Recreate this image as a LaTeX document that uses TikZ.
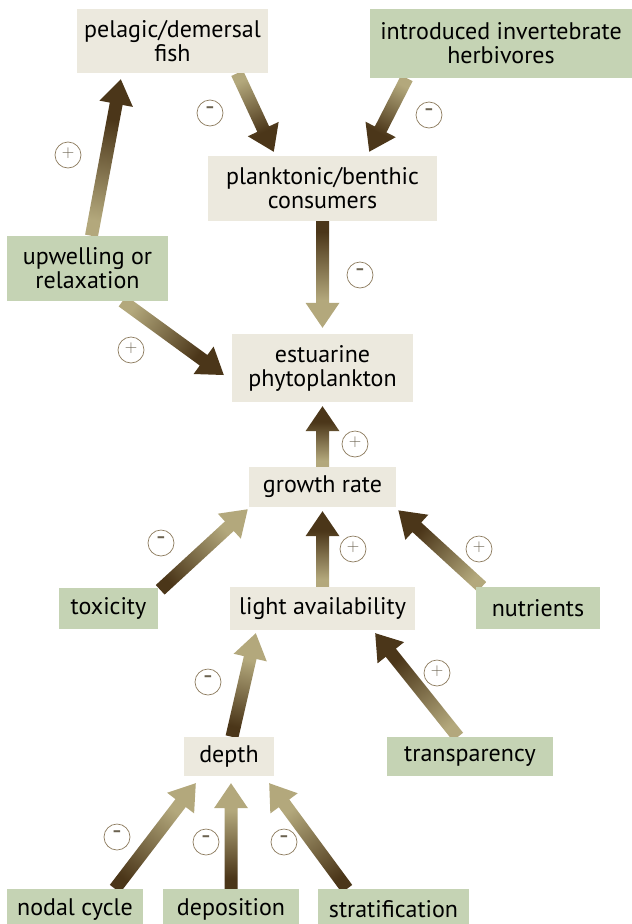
\documentclass[tikz,border=0pt]{standalone}
\usepackage{fontspec}
\setmainfont{PT Sans}
\usetikzlibrary{calc,backgrounds}

\definecolor{boxcream}{HTML}{ECE9DE}
\definecolor{boxgreen}{HTML}{C5D3B4}
\definecolor{arrowdark}{HTML}{4B3619}
\definecolor{arrowlight}{HTML}{B3A87C}
\definecolor{signbrown}{HTML}{8C7B5E}
\definecolor{signgray}{HTML}{6B6250}

% Shadings along the arrow (tail at left, tip at right)
\pgfdeclarehorizontalshading{lighttodark}{100bp}{color(0bp)=(arrowlight); color(30bp)=(arrowlight); color(62bp)=(arrowdark); color(100bp)=(arrowdark)}
\pgfdeclarehorizontalshading{darktolight}{100bp}{color(0bp)=(arrowdark); color(30bp)=(arrowdark); color(62bp)=(arrowlight); color(100bp)=(arrowlight)}

\def\shaftw{6.5pt}	% half width of the shaft
\def\headw{17pt}	% half width of the head
\def\headlen{25}	% length of the head

% Fat shaded arrow: tail, tip, shading
\newcommand{\fatarrow}[3]{%
	\path (#1); \pgfgetlastxy{\fax}{\fay}
	\path (#2); \pgfgetlastxy{\fbx}{\fby}
	\pgfmathsetmacro{\fang}{atan2((\fby)-(\fay),(\fbx)-(\fax))}
	\pgfmathsetmacro{\flen}{veclen((\fbx)-(\fax),(\fby)-(\fay))}
	\pgfmathsetmacro{\fneck}{\flen-\headlen}
	\begin{scope}[transform canvas={shift={(\fax,\fay)}, rotate=\fang}]
		\shade [shading=#3] (0pt,-\shaftw) -- (\fneck pt,-\shaftw) -- (\fneck pt,-\headw) -- (\flen pt,0pt) -- (\fneck pt,\headw) -- (\fneck pt,\shaftw) -- (0pt,\shaftw) -- cycle;
	\end{scope}}

% Sign marks
\newcommand{\signplus}{$+$}
\newcommand{\signminus}{{\fontsize{27}{27}\selectfont -}}

\tikzset{
	cream/.style = {fill = boxcream, align = center, inner sep = 0pt},
	factor/.style = {fill = boxgreen, align = center, inner sep = 0pt},
	sign/.style = {circle, draw = signbrown, line width = 0.7pt, minimum size = 26pt, inner sep = 0pt,
		text = signgray, font = \fontsize{18}{18}\selectfont, text height = 0.5em, text depth = 0pt}
}

\begin{document}
\begin{tikzpicture}[x = 1pt, y = -1pt, font = \fontsize{24}{24}\selectfont]

	\useasboundingbox (0, 0) rectangle (632, 924);

	% Boxes
	
	\node [cream, minimum width = 191pt, minimum height = 64pt] (fish) at (172.5, 41) {pelagic/demersal\\fish};
	\node [factor, minimum width = 262pt, minimum height = 69pt] (intro) at (501, 43.5) {introduced invertebrate\\herbivores};
	\node [cream, minimum width = 229pt, minimum height = 65pt] (plank) at (322.5, 188.5) {planktonic/benthic\\consumers};
	\node [factor, minimum width = 161pt, minimum height = 65pt] (upw) at (87.5, 268.5) {upwelling or\\relaxation};
	\node [cream, minimum width = 181pt, minimum height = 68pt] (phyto) at (322.5, 368) {estuarine\\phytoplankton};
	\node [cream, minimum width = 147pt, minimum height = 40pt] (growth) at (322.5, 487) {growth rate};
	\node [factor, minimum width = 99pt, minimum height = 41pt] (tox) at (108.5, 608.5) {toxicity};
	\node [cream, minimum width = 185pt, minimum height = 43pt] (light) at (322.5, 608.5) {light availability};
	\node [factor, minimum width = 124pt, minimum height = 42pt] (nutr) at (538, 608) {nutrients};
	\node [cream, minimum width = 90pt, minimum height = 39pt] (depth) at (229, 756.5) {depth};
	\node [factor, minimum width = 166pt, minimum height = 39pt] (transp) at (470, 756.5) {transparency};
	\node [factor, minimum width = 136pt, minimum height = 41pt] (nodal) at (75, 909.5) {nodal cycle};
	\node [factor, minimum width = 136pt, minimum height = 41pt] (depos) at (231, 909.5) {deposition};
	\node [factor, minimum width = 151pt, minimum height = 41pt] (strat) at (393.5, 909.5) {stratification};

	% Arrows
	
	\begin{pgfonlayer}{background}
		\fatarrow{$(upw.north) + (4, 0)$}{$(fish.south west) + (44, 6)$}{lighttodark}
		\fatarrow{$(fish.south east) + (-31, 0)$}{$(plank.north west) + (66, -4)$}{lighttodark}
		\fatarrow{$(intro.south west) + (37, 0)$}{$(plank.north east) + (-68, -4)$}{lighttodark}
		\fatarrow{plank.south}{$(phyto.north) + (0, -6)$}{darktolight}
		\fatarrow{$(upw.south) + (35, 0)$}{$(phyto.west) + (-8, 7)$}{lighttodark}
		\fatarrow{growth.north}{$(phyto.south) + (0, 4)$}{lighttodark}
		\fatarrow{$(tox.north east) + (2, 2)$}{$(growth.south west) + (-1, 2)$}{darktolight}
		\fatarrow{light.north}{$(growth.south) + (0, 4)$}{lighttodark}
		\fatarrow{$(nutr.north west) + (6, 0)$}{$(growth.south east) + (2, 3)$}{lighttodark}
		\fatarrow{$(depth.north) + (3, 0)$}{$(light.south west) + (26, 3)$}{darktolight}
		\fatarrow{$(transp.north) + (-12, 0)$}{$(light.south east) + (-40, 3)$}{lighttodark}
		\fatarrow{$(nodal.north) + (40, 0)$}{$(depth.south west) + (12, 7)$}{darktolight}
		\fatarrow{depos.north}{$(depos.north |- depth.south) + (0, 7)$}{darktolight}
		\fatarrow{$(strat.north) + (-46.5, 0)$}{$(depth.south east) + (-5, 7)$}{darktolight}
	\end{pgfonlayer}

	% Signs
	
	\node [sign] (s1) at (68, 155) {\signplus};
	\node [sign] (s2) at (210, 113) {\signminus};
	\node [sign] (s3) at (429, 115) {\signminus};
	\node [sign] (s4) at (360, 275) {\signminus};
	\node [sign] (s5) at (131, 350) {\signplus};
	\node [sign] (s6) at (355, 444) {\signplus};
	\node [sign] (s7) at (161, 543) {\signminus};
	\node [sign] (s8) at (353, 549) {\signplus};
	\node [sign] (s9) at (479, 549) {\signplus};
	\node [sign] (s10) at (208, 682) {\signminus};
	\node [sign] (s11) at (437, 673) {\signplus};
	\node [sign] (s12) at (117, 837) {\signminus};
	\node [sign] (s13) at (206, 842) {\signminus};
	\node [sign] (s14) at (284, 842) {\signminus};

\end{tikzpicture}
\end{document}
